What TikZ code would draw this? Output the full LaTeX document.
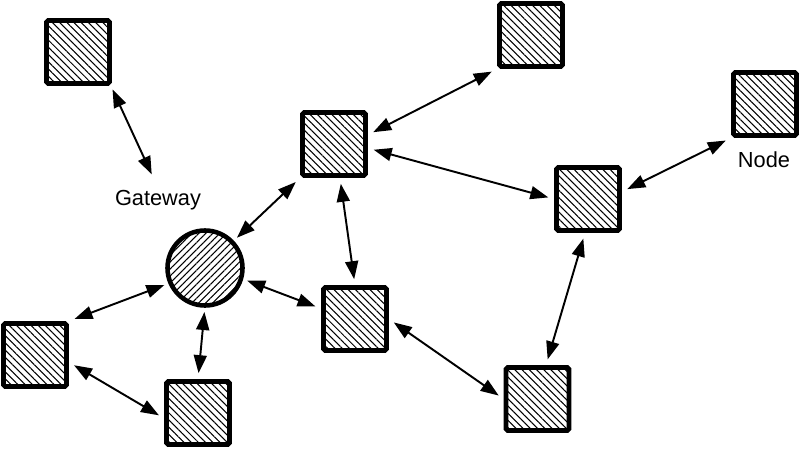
\documentclass[tikz,border=0pt]{standalone}
\usepackage{fontspec}
\setmainfont{Liberation Sans}
\usetikzlibrary{arrows.meta,patterns.meta}

\tikzset{
  sensor/.style={draw, line width=2.7pt, rounded corners=1pt, minimum size=1.26cm, inner sep=0pt,
    pattern={Lines[angle=-45,distance=2.9pt,line width=0.6pt]}},
  sink/.style={circle, draw, line width=2.6pt, minimum size=1.5cm, inner sep=0pt,
    pattern={Lines[angle=45,distance=2.8pt,line width=0.6pt]}},
  link/.style={line width=1.1pt, {Triangle[length=3.6mm,width=2.6mm]}-{Triangle[length=3.6mm,width=2.6mm]},
    shorten <=1.2mm, shorten >=1.2mm},
  tag/.style={font=\fontsize{12.4}{14}\selectfont, inner sep=1pt}
}

\begin{document}
\begin{tikzpicture}

  \useasboundingbox (0,0) rectangle (16,9.06);

  % Gateway
  \node[sink] (gw) at (4.10,3.70) {};
  \node[tag] (gwlabel) at (3.16,5.06) {Gateway};

  % Sensor nodes
  \node[sensor] (s1) at (1.56,8.02) {};
  \node[sensor] (s2) at (10.62,8.36) {};
  \node[sensor] (s3) at (6.68,6.18) {};
  \node[sensor] (s4) at (15.30,6.98) {};
  \node[sensor] (s5) at (11.76,5.08) {};
  \node[sensor] (s6) at (7.10,2.68) {};
  \node[sensor] (s7) at (0.70,1.96) {};
  \node[sensor] (s8) at (3.96,0.80) {};
  \node[sensor] (s9) at (10.75,1.08) {};
  \node[tag] (s4label) at (15.28,5.86) {Node};

  % Links
  \draw[link, shorten >=3mm] (s1.south east) -- (gwlabel.north);
  \draw[link] (s3.15) -- (s2.south west);
  \draw[link] (s3.-7) -- (s5.west);
  \draw[link] (s5.12) -- (s4.south west);
  \draw[link] (gw) -- (s3.south west);
  \draw[link] (s3.-80) -- (s6.north);
  \draw[link] (gw.-16) -- (s6.163);
  \draw[link] (s7.north east) -- (gw.203);
  \draw[link] (gw.south) -- (s8.north);
  \draw[link] (s7.-12) -- (s8.189);
  \draw[link] (s6.east) -- (s9.west);
  \draw[link] (s5.-95) -- (s9.76);

\end{tikzpicture}
\end{document}
